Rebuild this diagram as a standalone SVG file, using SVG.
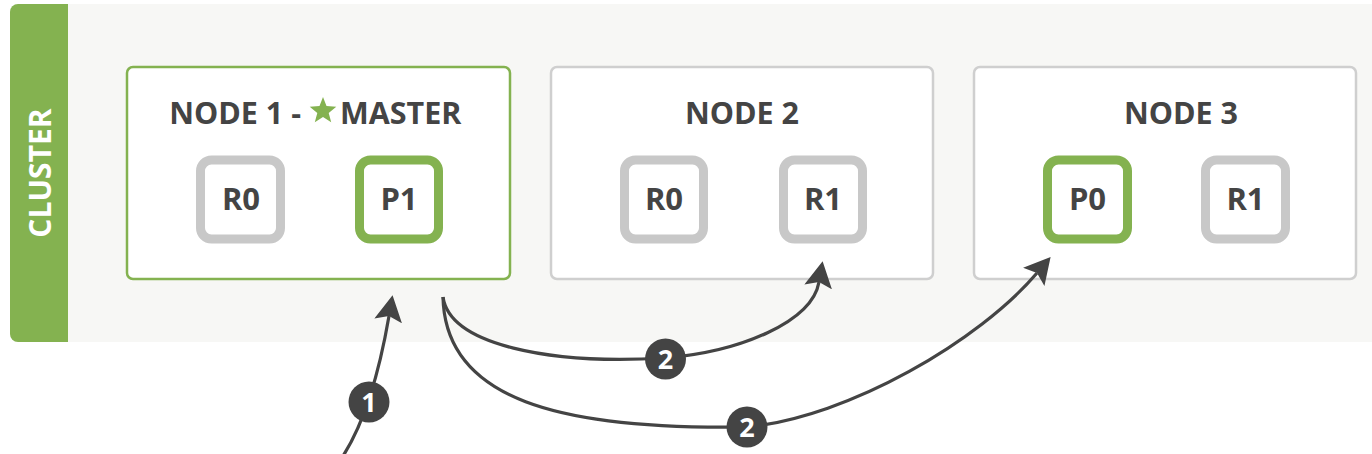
<svg xmlns="http://www.w3.org/2000/svg" width="1372" height="454" viewBox="0 0 1372 454">
<defs>
<style>
.title{font-family:"Open Sans","Liberation Sans",sans-serif;font-weight:700;font-size:30.5px;fill:#444;}
.shtxt{font-family:"Open Sans","Liberation Sans",sans-serif;font-weight:700;font-size:31px;fill:#444;text-anchor:middle;}
.node{fill:#fff;stroke:#cfcfcf;stroke-width:2.5;}
.master{fill:#fff;stroke:#84b250;stroke-width:2.5;}
.rep{fill:#fff;stroke:#c8c8c8;stroke-width:9;}
.pri{fill:#fff;stroke:#84b250;stroke-width:9;}
.conn{fill:none;stroke:#444;stroke-width:3.2;}
.badge{fill:#444;}
.btxt{font-family:"Open Sans","Liberation Sans",sans-serif;font-weight:700;font-size:27px;fill:#fff;text-anchor:middle;}
</style>
<marker id="ah" markerUnits="userSpaceOnUse" viewBox="0 0 26 28" markerWidth="26" markerHeight="28" refX="5" refY="14" orient="auto">
<path d="M0,0 L26,14 L0,28 L5,14 Z" fill="#444"/>
</marker>
</defs>
<rect x="0" y="0" width="1372" height="454" fill="#fff"/>
<g id="cluster">
<rect x="10" y="4" width="1380" height="338" rx="8" fill="#f7f7f5"/>
<path d="M18,4 H68 V342 H18 A8,8 0 0 1 10,334 V12 A8,8 0 0 1 18,4 Z" fill="#84b250"/>
<text transform="translate(51,173) rotate(-90)" text-anchor="middle" style="font-family:'Open Sans','Liberation Sans',sans-serif;font-weight:700;font-size:30px;fill:#fff;">CLUSTER</text>
</g>
<g id="node1">
<rect class="master" x="127" y="67" width="383" height="212" rx="6"/>
<text class="title" x="301" y="124" text-anchor="end">NODE 1 -</text>
<polygon points="323,97 326.5,106.1 336.3,106.7 328.7,112.9 331.2,122.3 323,117 314.8,122.3 317.3,112.9 309.7,106.7 319.5,106.1" fill="#84b250"/>
<text class="title" x="340" y="124">MASTER</text>
<g id="n1-r0"><rect class="rep" x="200.5" y="160" width="80" height="79" rx="11"/><text class="shtxt" x="241" y="210">R0</text></g>
<g id="n1-p1"><rect class="pri" x="359.5" y="160" width="79" height="79" rx="11"/><text class="shtxt" x="399" y="210">P1</text></g>
</g>
<g id="node2">
<rect class="node" x="551" y="67" width="382" height="212" rx="6"/>
<text class="title" x="742" y="124" text-anchor="middle">NODE 2</text>
<g id="n2-r0"><rect class="rep" x="624.5" y="160" width="79" height="79" rx="11"/><text class="shtxt" x="664" y="210">R0</text></g>
<g id="n2-r1"><rect class="rep" x="783.5" y="160" width="79" height="79" rx="11"/><text class="shtxt" x="823" y="210">R1</text></g>
</g>
<g id="node3">
<rect class="node" x="974" y="67" width="382" height="212" rx="6"/>
<text class="title" x="1181" y="124" text-anchor="middle">NODE 3</text>
<g id="n3-p0"><rect class="pri" x="1047.5" y="160" width="80" height="79" rx="11"/><text class="shtxt" x="1087.5" y="210">P0</text></g>
<g id="n3-r1"><rect class="rep" x="1205.5" y="160" width="80" height="79" rx="11"/><text class="shtxt" x="1245.5" y="210">R1</text></g>
</g>
<g id="connectors">
<path class="conn" d="M343,456 Q373,409 389,316" marker-end="url(#ah)"/>
<path class="conn" d="M443,297 C450,345 550,365 665,358 C740,352 812,322 819,282" marker-end="url(#ah)"/>
<path class="conn" d="M443,297 C445,400 560,430 747,427 C850,417 980,340 1037,273" marker-end="url(#ah)"/>
<circle class="badge" cx="369" cy="402" r="20.5"/>
<text class="btxt" x="369" y="411.5">1</text>
<circle class="badge" cx="665.5" cy="359" r="20.5"/>
<text class="btxt" x="665.5" y="368.5">2</text>
<circle class="badge" cx="747" cy="427" r="20.5"/>
<text class="btxt" x="747" y="436.5">2</text>
</g>
</svg>
